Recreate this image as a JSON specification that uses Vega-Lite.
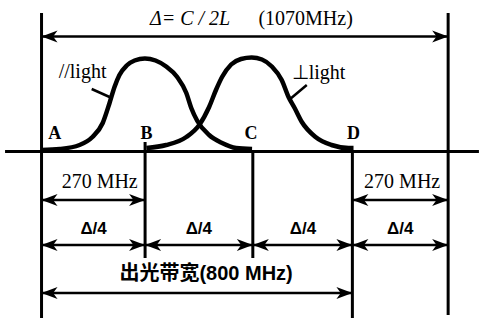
{
  "$schema": "https://vega.github.io/schema/vega-lite/v6.json",
  "width": 481,
  "height": 322,
  "autosize": {"type": "fit", "contains": "padding"},
  "padding": 0,
  "background": "white",
  "config": {"view": {"stroke": null}},
  "datasets": {
    "curves": [
      {"series": "par", "mhz": 0, "h": 1.5},
      {"series": "par", "mhz": 48, "h": 2.5},
      {"series": "par", "mhz": 100, "h": 6.5},
      {"series": "par", "mhz": 134, "h": 14.5},
      {"series": "par", "mhz": 161, "h": 28.5},
      {"series": "par", "mhz": 179, "h": 48.5},
      {"series": "par", "mhz": 192, "h": 64.5},
      {"series": "par", "mhz": 205, "h": 76.5},
      {"series": "par", "mhz": 224, "h": 86},
      {"series": "par", "mhz": 245, "h": 91},
      {"series": "par", "mhz": 272, "h": 93},
      {"series": "par", "mhz": 300, "h": 91},
      {"series": "par", "mhz": 328, "h": 85},
      {"series": "par", "mhz": 357, "h": 74.5},
      {"series": "par", "mhz": 381, "h": 58.5},
      {"series": "par", "mhz": 394, "h": 43.5},
      {"series": "par", "mhz": 410, "h": 30.5},
      {"series": "par", "mhz": 441, "h": 16.5},
      {"series": "par", "mhz": 475, "h": 8.5},
      {"series": "par", "mhz": 512, "h": 3.5},
      {"series": "par", "mhz": 554, "h": 2.5},
      {"series": "perp", "mhz": 276, "h": 3.5},
      {"series": "perp", "mhz": 328, "h": 6.5},
      {"series": "perp", "mhz": 381, "h": 14.5},
      {"series": "perp", "mhz": 415, "h": 26.5},
      {"series": "perp", "mhz": 441, "h": 44.5},
      {"series": "perp", "mhz": 459, "h": 61.5},
      {"series": "perp", "mhz": 475, "h": 74.5},
      {"series": "perp", "mhz": 499, "h": 87},
      {"series": "perp", "mhz": 525, "h": 92.5},
      {"series": "perp", "mhz": 553, "h": 94},
      {"series": "perp", "mhz": 580, "h": 92},
      {"series": "perp", "mhz": 606, "h": 85},
      {"series": "perp", "mhz": 632, "h": 71.5},
      {"series": "perp", "mhz": 650, "h": 54.5},
      {"series": "perp", "mhz": 666, "h": 43.5},
      {"series": "perp", "mhz": 685, "h": 29.5},
      {"series": "perp", "mhz": 721, "h": 14.5},
      {"series": "perp", "mhz": 763, "h": 6.5},
      {"series": "perp", "mhz": 808, "h": 3.5},
      {"series": "perp", "mhz": 821, "h": 3.5}
    ],
    "baseline": [{"x1": -96, "x2": 1151, "h": 0}],
    "verticals": [
      {"x": 0, "top": 138.5, "bottom": -166.5},
      {"x": 272.5, "top": 9.5, "bottom": -106.5},
      {"x": 556, "top": 0.5, "bottom": -106.5},
      {"x": 818, "top": 1.5, "bottom": -166.5},
      {"x": 1070, "top": 138.5, "bottom": -163.5}
    ],
    "arrows": [
      {"x1": 0, "x2": 1070, "h": 115},
      {"x1": 0, "x2": 272.5, "h": -48.5},
      {"x1": 818, "x2": 1070, "h": -48.5},
      {"x1": 0, "x2": 272.5, "h": -93.5},
      {"x1": 272.5, "x2": 556, "h": -93.5},
      {"x1": 556, "x2": 818, "h": -93.5},
      {"x1": 818, "x2": 1070, "h": -93.5},
      {"x1": 0, "x2": 818, "h": -141.5}
    ],
    "leaders": [
      {"x1": 132, "h1": 62.5, "x2": 179, "h2": 54.5},
      {"x1": 698, "h1": 66.5, "x2": 651, "h2": 51.5}
    ],
    "serifLabels": [
      {"text": "(1070MHz)", "x": 695, "h": 132.5},
      {"text": "//light", "x": 108, "h": 79.5},
      {"text": "⊥light", "x": 729, "h": 78.5},
      {"text": "270 MHz", "x": 153, "h": -30.5},
      {"text": "270 MHz", "x": 949, "h": -30.5}
    ],
    "pointLabels": [
      {"text": "A", "x": 35, "h": 17.5},
      {"text": "B", "x": 276, "h": 17.5},
      {"text": "C", "x": 551, "h": 17.5},
      {"text": "D", "x": 821, "h": 17.5}
    ],
    "italicLabels": [
      {"text": "Δ= C / 2L", "x": 391, "h": 132.5}
    ],
    "quarterLabels": [
      {"text": "Δ/4", "x": 137, "h": -77.5},
      {"text": "Δ/4", "x": 414, "h": -77.5},
      {"text": "Δ/4", "x": 688, "h": -77.5},
      {"text": "Δ/4", "x": 944, "h": -77.5}
    ],
    "bandLabel": [
      {"text": "出光带宽(800 MHz)", "x": 433, "h": -122.5}
    ]
  },
  "layer": [
    {
      "data": {"name": "baseline"},
      "mark": {"type": "rule", "color": "black", "strokeWidth": 3},
      "encoding": {
        "x": {"field": "x1", "type": "quantitative", "scale": {"domain": [-109.3, 1151.2], "nice": false, "zero": false}, "axis": null},
        "x2": {"field": "x2"},
        "y": {"field": "h", "type": "quantitative", "scale": {"domain": [-170.5, 151.5], "nice": false, "zero": false}, "axis": null}
      }
    },
    {
      "data": {"name": "verticals"},
      "mark": {"type": "rule", "color": "black", "strokeWidth": 3},
      "encoding": {
        "x": {"field": "x", "type": "quantitative", "axis": null},
        "y": {"field": "top", "type": "quantitative", "axis": null},
        "y2": {"field": "bottom"}
      }
    },
    {
      "data": {"name": "arrows"},
      "mark": {"type": "rule", "color": "black", "strokeWidth": 2.5},
      "encoding": {
        "x": {"field": "x1", "type": "quantitative", "axis": null},
        "x2": {"field": "x2"},
        "y": {"field": "h", "type": "quantitative", "axis": null}
      }
    },
    {
      "data": {"name": "arrows"},
      "mark": {"type": "point", "shape": "M0,0 L2,-0.75 L1.45,0 L2,0.75 Z", "filled": true, "color": "black", "opacity": 1, "size": 256, "strokeWidth": 0},
      "encoding": {
        "x": {"field": "x1", "type": "quantitative", "axis": null},
        "y": {"field": "h", "type": "quantitative", "axis": null}
      }
    },
    {
      "data": {"name": "arrows"},
      "mark": {"type": "point", "shape": "M0,0 L-2,-0.75 L-1.45,0 L-2,0.75 Z", "filled": true, "color": "black", "opacity": 1, "size": 256, "strokeWidth": 0},
      "encoding": {
        "x": {"field": "x2", "type": "quantitative", "axis": null},
        "y": {"field": "h", "type": "quantitative", "axis": null}
      }
    },
    {
      "data": {"name": "curves"},
      "mark": {"type": "line", "color": "black", "strokeWidth": 4.5, "interpolate": "monotone", "strokeCap": "butt"},
      "encoding": {
        "x": {"field": "mhz", "type": "quantitative", "axis": null},
        "y": {"field": "h", "type": "quantitative", "axis": null},
        "detail": {"field": "series"}
      }
    },
    {
      "data": {"name": "leaders"},
      "mark": {"type": "rule", "color": "black", "strokeWidth": 2.5},
      "encoding": {
        "x": {"field": "x1", "type": "quantitative", "axis": null},
        "x2": {"field": "x2"},
        "y": {"field": "h1", "type": "quantitative", "axis": null},
        "y2": {"field": "h2"}
      }
    },
    {
      "data": {"name": "serifLabels"},
      "mark": {"type": "text", "font": "Liberation Serif", "fontSize": 20, "color": "black", "align": "center", "baseline": "middle"},
      "encoding": {
        "x": {"field": "x", "type": "quantitative", "axis": null},
        "y": {"field": "h", "type": "quantitative", "axis": null},
        "text": {"field": "text"}
      }
    },
    {
      "data": {"name": "pointLabels"},
      "mark": {"type": "text", "font": "Liberation Serif", "fontWeight": "bold", "fontSize": 18, "color": "black", "align": "center", "baseline": "middle"},
      "encoding": {
        "x": {"field": "x", "type": "quantitative", "axis": null},
        "y": {"field": "h", "type": "quantitative", "axis": null},
        "text": {"field": "text"}
      }
    },
    {
      "data": {"name": "italicLabels"},
      "mark": {"type": "text", "font": "Liberation Serif", "fontStyle": "italic", "fontSize": 20, "color": "black", "align": "center", "baseline": "middle"},
      "encoding": {
        "x": {"field": "x", "type": "quantitative", "axis": null},
        "y": {"field": "h", "type": "quantitative", "axis": null},
        "text": {"field": "text"}
      }
    },
    {
      "data": {"name": "quarterLabels"},
      "mark": {"type": "text", "font": "Liberation Sans", "fontWeight": "bold", "fontSize": 17, "color": "black", "align": "center", "baseline": "middle"},
      "encoding": {
        "x": {"field": "x", "type": "quantitative", "axis": null},
        "y": {"field": "h", "type": "quantitative", "axis": null},
        "text": {"field": "text"}
      }
    },
    {
      "data": {"name": "bandLabel"},
      "mark": {"type": "text", "font": "Liberation Sans, Noto Sans CJK SC", "fontWeight": "bold", "fontSize": 20, "color": "black", "align": "center", "baseline": "middle"},
      "encoding": {
        "x": {"field": "x", "type": "quantitative", "axis": null},
        "y": {"field": "h", "type": "quantitative", "axis": null},
        "text": {"field": "text"}
      }
    }
  ]
}
